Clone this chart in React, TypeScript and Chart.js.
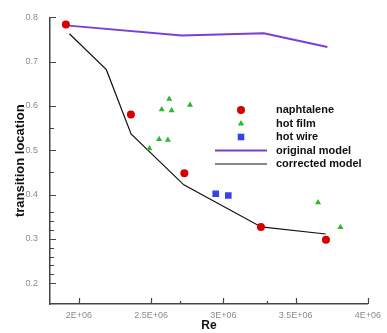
import React, { useEffect, useRef } from "react";
import { Chart, registerables } from "chart.js";

Chart.register(...registerables);

const naphX = [1.91e6, 2.36e6, 2.73e6, 3.26e6, 3.71e6];
const naphY = [0.784, 0.581, 0.448, 0.327, 0.298];

const hotFilmX = [2.488e6, 2.555e6, 2.616e6, 2.573e6, 2.642e6, 2.625e6, 2.769e6, 3.655e6, 3.81e6];
const hotFilmY = [0.504, 0.525, 0.523, 0.592, 0.59, 0.616, 0.602, 0.382, 0.326];

const hotWireX = [2.947e6, 3.034e6];
const hotWireY = [0.402, 0.398];

const origX = [1.91e6, 2.712e6, 3.28e6, 3.72e6];
const origY = [0.782, 0.759, 0.764, 0.733];

const corrX = [1.934e6, 2.19e6, 2.361e6, 2.726e6, 3.262e6, 3.708e6];
const corrY = [0.763, 0.682, 0.537, 0.422, 0.327, 0.311];

const xTickValues = [2e6, 2.5e6, 3e6, 3.5e6, 4e6];
const xTickLabels = ["2E+06", "2.5E+06", "3E+06", "3.5E+06", "4E+06"];
const yTickValues = [0.2, 0.3, 0.4, 0.5, 0.6, 0.7, 0.8];
const yMinorTicks = [0.55, 0.45, 0.36, 0.34, 0.32, 0.28, 0.26, 0.24, 0.22];
const xMinorTicks = [2.7e6, 3.3e6];

const RED = "#d90000";
const GREEN = "#2cb82c";
const BLUE = "#3344ee";
const PURPLE = "#7b3fd6";
const BLACK = "#111111";

const pts = (xs: number[], ys: number[]) => xs.map((x, i) => ({ x, y: ys[i] }));

const tickPlugin = {
  id: "inwardTicks",
  afterDraw(chart: any) {
    const { ctx, scales } = chart;
    const xs = scales.x;
    const ys = scales.y;
    const ax = xs.left;
    const ay = ys.bottom;
    ctx.save();
    ctx.strokeStyle = "#444";
    ctx.lineWidth = 1.2;
    ctx.beginPath();
    ys.ticks.forEach((t: any) => {
      const p = Math.round(ys.getPixelForValue(t.value)) + 0.5;
      ctx.moveTo(ax, p);
      ctx.lineTo(ax + 6, p);
    });
    yMinorTicks.forEach((v) => {
      const p = Math.round(ys.getPixelForValue(v)) + 0.5;
      ctx.moveTo(ax, p);
      ctx.lineTo(ax + 4, p);
    });
    xs.ticks.forEach((t: any) => {
      const p = Math.round(xs.getPixelForValue(t.value)) + 0.5;
      ctx.moveTo(p, ay);
      ctx.lineTo(p, ay - 6);
    });
    xMinorTicks.forEach((v) => {
      const p = Math.round(xs.getPixelForValue(v)) + 0.5;
      ctx.moveTo(p, ay);
      ctx.lineTo(p, ay - 3);
    });
    ctx.stroke();
    ctx.restore();
  },
};

const legendPlugin = {
  id: "innerLegend",
  afterDraw(chart: any) {
    const { ctx } = chart;
    const ds = chart.data.datasets;
    const mx = 241;
    const tx = 276;
    const y0 = 110;
    const dy = 13.5;
    ctx.save();
    ctx.font = 'bold 11px "Liberation Sans", Arial, sans-serif';
    ctx.textBaseline = "middle";
    ctx.textAlign = "left";
    ds.forEach((d: any, i: number) => {
      const y = y0 + i * dy;
      ctx.fillStyle = d.backgroundColor || d.borderColor;
      ctx.strokeStyle = d.borderColor;
      if (d.showLine) {
        ctx.lineWidth = d.borderWidth;
        ctx.beginPath();
        ctx.moveTo(215, y);
        ctx.lineTo(267, y);
        ctx.stroke();
      } else if (d.pointStyle === "circle") {
        ctx.beginPath();
        ctx.arc(mx, y, 4, 0, Math.PI * 2);
        ctx.fill();
      } else if (d.pointStyle === "triangle") {
        ctx.beginPath();
        ctx.moveTo(mx, y - 3.5);
        ctx.lineTo(mx + 3.2, y + 2);
        ctx.lineTo(mx - 3.2, y + 2);
        ctx.closePath();
        ctx.fill();
      } else {
        ctx.fillRect(mx - 3.3, y - 3.3, 6.6, 6.6);
      }
      ctx.fillStyle = "#111";
      ctx.fillText(d.label, tx, y);
    });
    ctx.restore();
  },
};

export default function App() {
  const ref = useRef<HTMLCanvasElement | null>(null);
  useEffect(() => {
    document.body.style.margin = "0";
    if (!ref.current) return;
    const chart = new Chart(ref.current, {
      type: "scatter",
      data: {
        datasets: [
          {
            label: "naphtalene",
            data: pts(naphX, naphY),
            pointStyle: "circle",
            radius: 4,
            backgroundColor: RED,
            borderColor: RED,
            borderWidth: 0,
            order: 1,
          },
          {
            label: "hot film",
            data: pts(hotFilmX, hotFilmY),
            pointStyle: "triangle",
            radius: 3.5,
            backgroundColor: GREEN,
            borderColor: GREEN,
            borderWidth: 0,
            order: 2,
          },
          {
            label: "hot wire",
            data: pts(hotWireX, hotWireY),
            pointStyle: "rect",
            radius: 4.7,
            backgroundColor: BLUE,
            borderColor: BLUE,
            borderWidth: 0,
            order: 3,
          },
          {
            label: "original model",
            data: pts(origX, origY),
            showLine: true,
            pointRadius: 0,
            borderColor: PURPLE,
            backgroundColor: PURPLE,
            borderWidth: 2,
            order: 4,
          },
          {
            label: "corrected model",
            data: pts(corrX, corrY),
            showLine: true,
            pointRadius: 0,
            borderColor: BLACK,
            backgroundColor: BLACK,
            borderWidth: 1.2,
            order: 5,
          },
        ] as any,
      },
      options: {
        animation: false,
        responsive: true,
        maintainAspectRatio: false,
        layout: { padding: { top: 14, right: 17, left: 0, bottom: 0 } },
        plugins: { legend: { display: false }, tooltip: { enabled: false } },
        scales: {
          x: {
            type: "linear",
            min: 1.8e6,
            max: 4e6,
            afterFit: (s: any) => {
              s.height = 29;
            },
            afterBuildTicks: (s: any) => {
              s.ticks = xTickValues.map((v) => ({ value: v }));
            },
            grid: { display: false, drawTicks: false },
            border: { display: true, color: "#444", width: 1.5 },
            ticks: {
              autoSkip: false,
              padding: 6,
              color: "#8a8a8a",
              font: { size: 9, family: '"Liberation Sans", Arial, sans-serif' },
              maxRotation: 0,
              callback: (v: any, i: number) => xTickLabels[i] ?? "",
            },
            title: {
              display: true,
              text: "Re",
              color: "#111",
              padding: { top: 0, bottom: 0 },
              font: { size: 12, weight: "bold", family: '"Liberation Sans", Arial, sans-serif' },
            },
          },
          y: {
            type: "linear",
            min: 0.153,
            max: 0.8,
            afterFit: (s: any) => {
              s.width = 50;
            },
            afterBuildTicks: (s: any) => {
              s.ticks = yTickValues.map((v) => ({ value: v }));
            },
            grid: { display: false, drawTicks: false },
            border: { display: true, color: "#444", width: 1.5 },
            ticks: {
              autoSkip: false,
              padding: 12,
              color: "#8a8a8a",
              font: { size: 9, family: '"Liberation Sans", Arial, sans-serif' },
              callback: (v: any) => Number(v).toFixed(1),
            },
            title: {
              display: true,
              text: "transition location",
              color: "#111",
              padding: { top: 13, bottom: 0 },
              font: { size: 13, weight: "bold", family: '"Liberation Sans", Arial, sans-serif' },
            },
          },
        },
      } as any,
      plugins: [tickPlugin, legendPlugin],
    });
    return () => chart.destroy();
  }, []);
  return (
    <div style={{ width: 387, height: 333, position: "relative" }}>
      <canvas ref={ref} />
    </div>
  );
}
